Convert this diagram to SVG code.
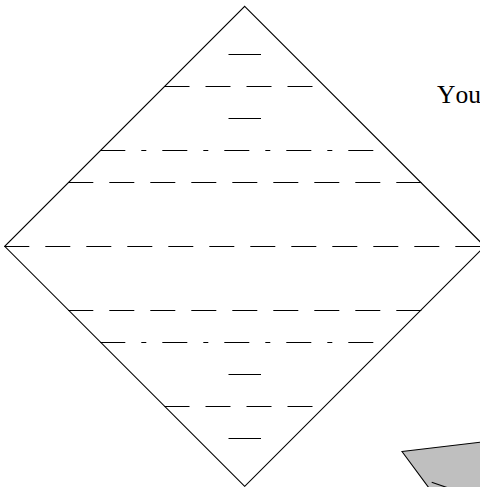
<svg xmlns="http://www.w3.org/2000/svg" width="480" height="487" viewBox="0 0 480 487">
<style>
.e{fill:none;stroke:#000;stroke-width:1}
.b{fill:none;stroke:#000;stroke-width:1.1}
.d{fill:none;stroke:#000;stroke-width:1;stroke-dasharray:25 16}
.c{fill:none;stroke:#000;stroke-width:1;stroke-dasharray:25 16 5 16}
text{font-family:"Liberation Serif","Times New Roman",serif;font-size:25.5px;font-kerning:none;fill:#000}
</style>
<rect width="480" height="487" fill="#fff"/>
<g id="diamond"><path class="b" d="M244.7 6.3L484.7 246.3L244.7 486.3L4.7 246.3Z"/></g>
<g id="connectors">
<path class="e" d="M228.5 54.5H261"/>
<path class="d" d="M164.5 86.5H312.5"/>
<path class="e" d="M228.5 118.5H261"/>
<path class="c" d="M100.3 150.5H373.5"/>
<path class="d" d="M68.3 182.5H421.3"/>
<path class="d" d="M4.3 246.5H485"/>
<path class="d" d="M68.3 310.5H421.3"/>
<path class="c" d="M100.3 342.5H373.5"/>
<path class="e" d="M228.5 374.5H261"/>
<path class="d" d="M164.5 406.5H312.5"/>
<path class="e" d="M228.5 438.5H261"/>
</g>
<g id="label"><text x="437" y="103">You</text></g>
<g id="shape">
<path d="M402 451.5L481 442.2L481 488H429Z" fill="#bfbfbf" stroke="#000" stroke-width="1.1"/>
<path class="b" d="M431.7 482.3L447 487.5"/>
</g>
</svg>
